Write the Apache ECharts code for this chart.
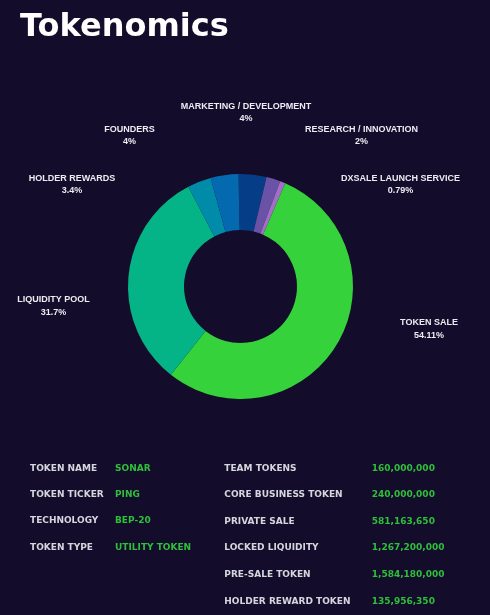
<!DOCTYPE html>
<html>
<head>
<meta charset="utf-8">
<style>
  html, body { margin: 0; padding: 0; background: #130c2a; }
  #chart { width: 490px; height: 615px; }
</style>
<script src="https://cdn.jsdelivr.net/npm/echarts@6/dist/echarts.min.js"></script>
</head>
<body>
<div id="chart"></div>
<script>
// ---- data ----
const sliceNames = ['MARKETING / DEVELOPMENT', 'RESEARCH / INNOVATION', 'DXSALE LAUNCH SERVICE',
                    'TOKEN SALE', 'LIQUIDITY POOL', 'HOLDER REWARDS', 'FOUNDERS'];
const sliceValues = [4, 2, 0.79, 54.11, 31.7, 3.4, 4];

const infoKeys = ['TOKEN NAME', 'TOKEN TICKER', 'TECHNOLOGY', 'TOKEN TYPE'];
const infoValues = ['SONAR', 'PING', 'BEP-20', 'UTILITY TOKEN'];

const supplyKeys = ['TEAM TOKENS', 'CORE BUSINESS TOKEN', 'PRIVATE SALE', 'LOCKED LIQUIDITY',
                    'PRE-SALE TOKEN', 'HOLDER REWARD TOKEN'];
const supplyValues = ['160,000,000', '240,000,000', '581,163,650', '1,267,200,000',
                      '1,584,180,000', '135,956,350'];

// ---- styling / layout ----
const sliceColors = ['#053d86', '#6a52a6', '#a26ec8', '#35d23b', '#05b486', '#008ca8', '#0569b0'];
const labelSpots = [[246, 112.5], [361.5, 135.5], [400.5, 184.5], [429, 329], [53.5, 306], [72, 184.5], [129.5, 135.5]];

const tableFont = 'bold 9px "DejaVu Sans"';
const keyColor = '#d6d6de';
const valColor = '#2fbf3a';

const graphics = [];
function addText(x, y, text, color) {
  graphics.push({
    type: 'text', x: x, y: y, silent: true,
    style: { text: text, font: tableFont, fill: color,
             align: 'left', verticalAlign: 'middle',
             textAlign: 'left', textVerticalAlign: 'middle' }
  });
}
infoKeys.forEach((k, i) => {
  const y = 468.3 + i * 26.4;
  addText(30, y, k, keyColor);
  addText(115, y, infoValues[i], valColor);
});
supplyKeys.forEach((k, i) => {
  const y = 468.3 + i * 26.6;
  addText(224.3, y, k, keyColor);
  addText(371.7, y, supplyValues[i], valColor);
});

const chart = echarts.init(document.getElementById('chart'), null, { renderer: 'canvas' });
chart.setOption({
  backgroundColor: '#130c2a',
  animation: false,
  title: {
    text: 'Tokenomics',
    left: 15, top: 7,
    textStyle: { color: '#ffffff', fontFamily: 'DejaVu Sans', fontWeight: 'bold', fontSize: 32 }
  },
  graphic: graphics,
  series: [{
    type: 'pie',
    center: [240.5, 286.5],
    radius: [56.5, 112.5],
    startAngle: 91,
    clockwise: true,
    avoidLabelOverlap: false,
    itemStyle: { borderWidth: 0 },
    label: {
      show: true,
      position: 'outside',
      formatter: '{b}\n{c}%',
      color: '#ececf2',
      fontFamily: 'Liberation Sans',
      fontWeight: 'bold',
      fontSize: 9,
      lineHeight: 12.5,
      align: 'center'
    },
    labelLine: { show: false },
    labelLayout: function (params) {
      const p = labelSpots[params.dataIndex];
      return { x: p[0], y: p[1], align: 'center', verticalAlign: 'middle', hideOverlap: false };
    },
    emphasis: { disabled: true },
    data: sliceNames.map((n, i) => ({ name: n, value: sliceValues[i], itemStyle: { color: sliceColors[i] } }))
  }]
});
</script>
</body>
</html>
